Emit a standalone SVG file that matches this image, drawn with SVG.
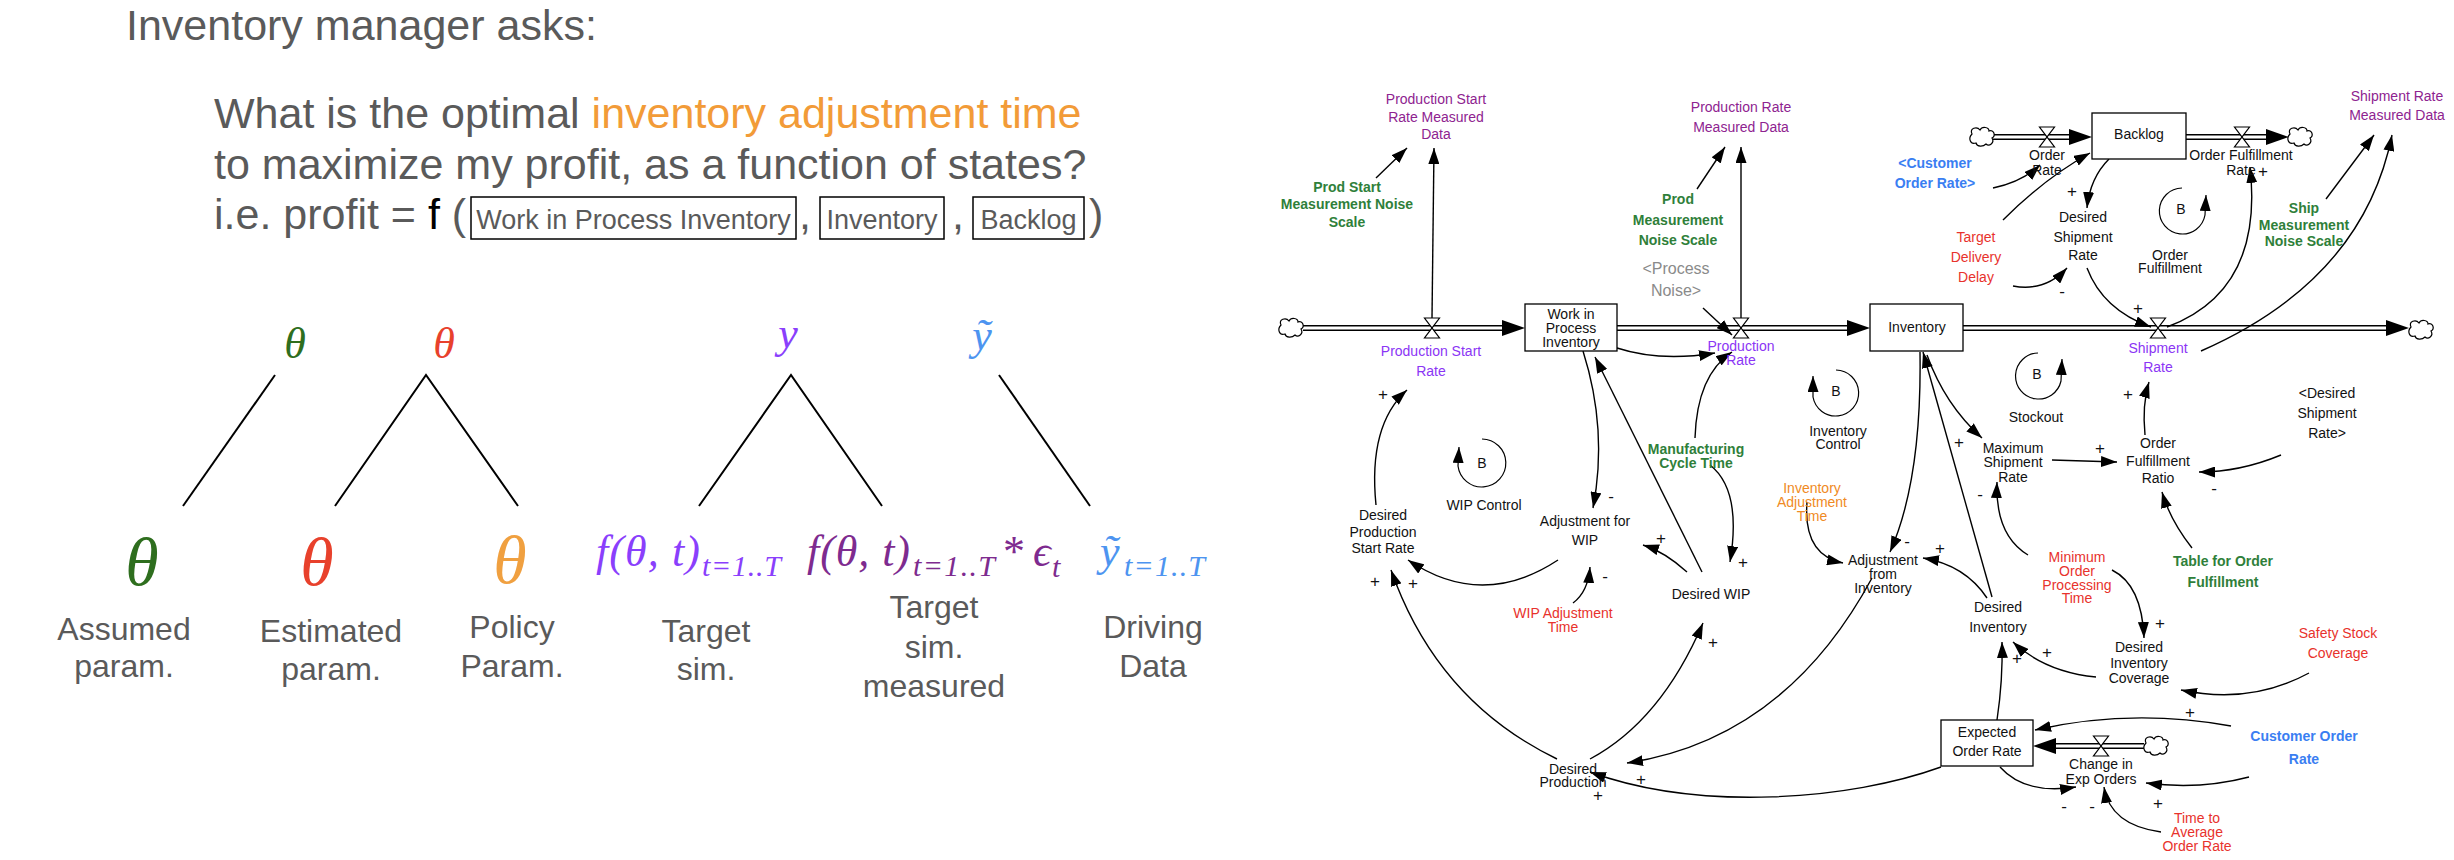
<svg xmlns="http://www.w3.org/2000/svg" width="2454" height="860" viewBox="0 0 2454 860">
<style>
.sans{font-family:"Liberation Sans",Arial,sans-serif}
.hd{font-size:43px;fill:#5a5a5a}
.lab{font-size:32px;fill:#5a5a5a;text-anchor:middle}
.bx{font-size:27px;fill:#5a5a5a;text-anchor:middle}
.m{font-family:"Liberation Serif","Times New Roman",serif;font-style:italic}
.v{font-family:"Liberation Sans",Arial,sans-serif;font-size:14px;text-anchor:middle;fill:#111}
.p{font-family:"Liberation Sans",Arial,sans-serif;font-size:17px;text-anchor:middle;fill:#111}
.b{font-weight:bold}
.pu{fill:#8e2390}
.vi{fill:#8b35f5}
.gr{fill:#2f7f3a}
.rd{fill:#e8322c}
.bl{fill:#3a7ef2}
.or{fill:#f08a24}
.gy{fill:#8a8a8a;font-size:16px}
.lk{fill:none;stroke:#000;stroke-width:1.4;marker-end:url(#ah)}
.arc{fill:none;stroke:#000;stroke-width:1.2;marker-end:url(#ah)}
.stk{fill:#fff;stroke:#000;stroke-width:1.3}
.po{stroke:#000;stroke-width:6;fill:none}
.pi{stroke:#fff;stroke-width:3;fill:none}
.tree{stroke:#000;stroke-width:2;fill:none}
.ebox{fill:none;stroke:#000;stroke-width:1.5}
</style>
<defs>
<marker id="ah" markerUnits="userSpaceOnUse" markerWidth="16" markerHeight="11" refX="16" refY="5.5" orient="auto">
<path d="M0,0 L16,5.5 L0,11 Z" fill="#000"/>
</marker>
<path id="cloud" d="M-10,-3 C-13,-9 -5,-11 -2,-7 C0,-11 7,-10 7,-6 C12,-8 14,-1 10,1 C13,6 7,10 4,7 C1,10 -5,10 -6,6 C-12,8 -14,1 -10,-3 Z" fill="#fff" stroke="#000" stroke-width="1.2"/>
<path id="valve" d="M-7.5,-10 L7.5,-10 L-7.5,10 L7.5,10 Z" fill="#fff" stroke="#000" stroke-width="1.2"/>
<path id="pah" d="M-23,-8 L0,0 L-23,8 Z" fill="#000"/>
</defs>
<rect width="2454" height="860" fill="#fff"/>

<!-- LEFT PANEL -->
<g id="question" class="sans">
<text class="hd" x="126" y="40">Inventory manager asks:</text>
<text class="hd" x="214" y="128">What is the optimal <tspan fill="#f29b38">inventory adjustment time</tspan></text>
<text class="hd" x="214" y="179">to maximize my profit, as a function of states?</text>
<text class="hd" x="214" y="229">i.e. profit = <tspan fill="#000">f</tspan> (</text>
<rect class="ebox" x="471" y="197" width="325" height="42"/>
<text class="bx" x="633.5" y="229">Work in Process Inventory</text>
<text class="hd" x="799" y="229">,</text>
<rect class="ebox" x="820" y="197" width="124" height="42"/>
<text class="bx" x="882" y="229">Inventory</text>
<text class="hd" x="952" y="229">,</text>
<rect class="ebox" x="973" y="197" width="111" height="42"/>
<text class="bx" x="1028.5" y="229">Backlog</text>
<text class="hd" x="1089" y="229">)</text>
</g>

<g id="tree-top">
<text class="m" x="295" y="358" font-size="44" fill="#2e6e1e" text-anchor="middle">θ</text>
<text class="m" x="444" y="358" font-size="44" fill="#e8412c" text-anchor="middle">θ</text>
<text class="m" x="788" y="348" font-size="44" fill="#8a3ffc" text-anchor="middle">y</text>
<text class="m" x="982" y="350" font-size="44" fill="#4d94f0" text-anchor="middle">ỹ</text>
</g>
<g id="tree-lines">
<path class="tree" d="M275,375 L183,506"/>
<path class="tree" d="M335,506 L426,375 L518,506"/>
<path class="tree" d="M699,506 L791,375 L882,506"/>
<path class="tree" d="M999,375 L1090,506"/>
</g>
<g id="tree-bottom">
<text class="m" x="142" y="585" font-size="68" fill="#2e6e1e" text-anchor="middle">θ</text>
<text class="m" x="317" y="585" font-size="68" fill="#e8412c" text-anchor="middle">θ</text>
<text class="m" x="510" y="583" font-size="68" fill="#f0a040" text-anchor="middle">θ</text>
<g fill="#8a3ffc" class="m">
<text x="596" y="566" font-size="44" textLength="104" lengthAdjust="spacing">f(θ, t)</text>
<text x="702" y="576" font-size="30" textLength="79" lengthAdjust="spacing">t=1..T</text>
</g>
<g fill="#7e2b8f" class="m">
<text x="807" y="566" font-size="44" textLength="103" lengthAdjust="spacing">f(θ, t)</text>
<text x="913" y="576" font-size="30" textLength="82" lengthAdjust="spacing">t=1..T</text>
<text x="1003" y="566" font-size="44" font-style="normal">*</text>
<text x="1033" y="566" font-size="44">ϵ</text>
<text x="1052" y="577" font-size="30">t</text>
</g>
<g fill="#4d94f0" class="m">
<text x="1100" y="566" font-size="44">ỹ</text>
<text x="1124" y="576" font-size="30" textLength="81" lengthAdjust="spacing">t=1..T</text>
</g>
</g>
<g id="tree-labels" class="sans">
<text class="lab" x="124" y="640">Assumed<tspan x="124" y="677">param.</tspan></text>
<text class="lab" x="331" y="642">Estimated<tspan x="331" y="680">param.</tspan></text>
<text class="lab" x="512" y="638">Policy<tspan x="512" y="677">Param.</tspan></text>
<text class="lab" x="706" y="642">Target<tspan x="706" y="680">sim.</tspan></text>
<text class="lab" x="934" y="618">Target<tspan x="934" y="658">sim.</tspan><tspan x="934" y="697">measured</tspan></text>
<text class="lab" x="1153" y="638">Driving<tspan x="1153" y="677">Data</tspan></text>
</g>

<!-- RIGHT PANEL: pipes -->
<g id="pipes">
<path class="po" d="M1303,328 H1504"/><path class="pi" d="M1303,328 H1504"/>
<use href="#pah" x="1525" y="328"/>
<path class="po" d="M1617,328 H1849"/><path class="pi" d="M1617,328 H1849"/>
<use href="#pah" x="1870" y="328"/>
<path class="po" d="M1963,328 H2388"/><path class="pi" d="M1963,328 H2388"/>
<use href="#pah" x="2409" y="328"/>
<path class="po" d="M1993,137 H2071"/><path class="pi" d="M1993,137 H2071"/>
<use href="#pah" x="2092" y="137"/>
<path class="po" d="M2186,137 H2268"/><path class="pi" d="M2186,137 H2268"/>
<use href="#pah" x="2289" y="137"/>
<path class="po" d="M2144,746 H2054"/><path class="pi" d="M2144,746 H2054"/>
<use href="#pah" transform="translate(2033,746) rotate(180)"/>
<use href="#cloud" x="1291" y="328"/>
<use href="#cloud" x="2421" y="330"/>
<use href="#cloud" x="1982" y="137"/>
<use href="#cloud" x="2300" y="137"/>
<use href="#cloud" x="2156" y="746"/>
</g>

<!-- connectors -->
<g id="connectors">
<path class="lk" d="M1376,178 L1407,148"/>
<path class="lk" d="M1432,318 L1434,148"/>
<path class="lk" d="M1697,189 L1725,147"/>
<path class="lk" d="M1741,318 L1741,147"/>
<path class="lk" d="M1703,308 L1732,335"/>
<path class="lk" d="M1993,188 Q2022,182 2040,165"/>
<path class="lk" d="M2003,220 Q2045,178 2090,153"/>
<path class="lk" d="M2109,159 Q2090,178 2087,208"/>
<path class="lk" d="M2013,286 Q2045,292 2067,268"/>
<path class="lk" d="M2087,268 Q2103,310 2151,327"/>
<path class="lk" d="M2167,327 Q2264,291 2250,167"/>
<path class="lk" d="M2201,351 Q2363,280 2392,135"/>
<path class="lk" d="M2326,199 L2374,135"/>
<path class="lk" d="M1927,355 Q1945,405 1982,438"/>
<path class="lk" d="M2028,555 Q1995,535 1997,482"/>
<path class="lk" d="M2052,460 L2117,462"/>
<path class="lk" d="M2145,435 Q2142,405 2149,382"/>
<path class="lk" d="M2281,455 Q2240,472 2199,472"/>
<path class="lk" d="M2192,548 Q2170,520 2162,492"/>
<path class="lk" d="M1920,352 Q1922,480 1890,552"/>
<path class="lk" d="M1992,597 L1923,352"/>
<path class="lk" d="M1987,598 Q1965,565 1923,558"/>
<path class="lk" d="M1807,502 Q1803,555 1843,563"/>
<path class="lk" d="M1872,578 Q1785,739 1627,763"/>
<path class="lk" d="M1941,767 C1850,800 1700,812 1590,772"/>
<path class="lk" d="M1590,759 Q1661,721 1703,623"/>
<path class="lk" d="M1557,759 Q1437,701 1391,570"/>
<path class="lk" d="M1558,560 Q1482,610 1408,560"/>
<path class="lk" d="M1573,603 Q1588,592 1590,567"/>
<path class="lk" d="M1687,572 Q1665,552 1643,545"/>
<path class="lk" d="M1702,572 L1595,357"/>
<path class="lk" d="M1583,351 Q1608,430 1593,508"/>
<path class="lk" d="M1617,348 Q1660,362 1715,353"/>
<path class="lk" d="M1695,438 Q1697,375 1732,352"/>
<path class="lk" d="M1710,465 Q1742,490 1730,562"/>
<path class="lk" d="M1376,505 Q1368,425 1407,390"/>
<path class="lk" d="M1997,720 Q2003,680 2002,642"/>
<path class="lk" d="M2096,677 Q2045,672 2013,642"/>
<path class="lk" d="M2112,570 Q2142,585 2144,638"/>
<path class="lk" d="M2309,673 Q2250,705 2181,690"/>
<path class="lk" d="M2231,726 Q2131,708 2035,730"/>
<path class="lk" d="M2000,767 Q2025,795 2076,787"/>
<path class="lk" d="M2249,777 Q2200,790 2146,783"/>
<path class="lk" d="M2161,832 Q2110,825 2104,787"/>
</g>

<!-- valves -->
<g id="valves">
<use href="#valve" x="1432" y="328"/>
<use href="#valve" x="1741" y="328"/>
<use href="#valve" x="2158" y="328"/>
<use href="#valve" x="2047" y="137"/>
<use href="#valve" x="2242" y="137"/>
<use href="#valve" x="2101" y="746"/>
</g>

<!-- stocks -->
<g id="n_wip"><rect class="stk" x="1525" y="304" width="92" height="47"/><text class="v" x="1571" y="319">Work in<tspan x="1571" y="333">Process</tspan><tspan x="1571" y="347">Inventory</tspan></text></g>
<g id="n_inventory"><rect class="stk" x="1870" y="304" width="93" height="47"/><text class="v" x="1917" y="332">Inventory</text></g>
<g id="n_backlog"><rect class="stk" x="2092" y="113" width="94" height="46"/><text class="v" x="2139" y="139">Backlog</text></g>
<g id="n_eor"><rect class="stk" x="1941" y="720" width="92" height="46"/><text class="v" x="1987" y="737">Expected<tspan x="1987" y="756">Order Rate</tspan></text></g>

<!-- loops -->
<g id="loop_wip"><path class="arc" d="M1482,439 A24,24 0 1 1 1458,466 L1459,447"/><text class="v" x="1482" y="468">B</text><text class="v" x="1484" y="510">WIP Control</text></g>
<g id="loop_inv"><path class="arc" d="M1836,370 A23,23 0 1 1 1813,397 L1813,376"/><text class="v" x="1836" y="396">B</text><text class="v" x="1838" y="436">Inventory<tspan x="1838" y="449">Control</tspan></text></g>
<g id="loop_stock"><path class="arc" d="M2038,353 A23,23 0 1 0 2061,381 L2062,359"/><text class="v" x="2037" y="379">B</text><text class="v" x="2036" y="422">Stockout</text></g>
<g id="loop_of"><path class="arc" d="M2182,188 A23,23 0 1 0 2205,215 L2206,195"/><text class="v" x="2181" y="214">B</text><text class="v" x="2170" y="260">Order<tspan x="2170" y="273">Fulfillment</tspan></text></g>

<!-- variables -->
<g id="n_psrmd"><text class="v pu" x="1436" y="104">Production Start<tspan x="1436" y="122">Rate Measured</tspan><tspan x="1436" y="139">Data</tspan></text></g>
<g id="n_psmns"><text class="v b gr" x="1347" y="192">Prod Start<tspan x="1347" y="209">Measurement Noise</tspan><tspan x="1347" y="227">Scale</tspan></text></g>
<g id="n_prmd"><text class="v pu" x="1741" y="112">Production Rate<tspan x="1741" y="132">Measured Data</tspan></text></g>
<g id="n_pmns"><text class="v b gr" x="1678" y="204">Prod<tspan x="1678" y="225">Measurement</tspan><tspan x="1678" y="245">Noise Scale</tspan></text></g>
<g id="n_pnoise"><text class="v gy" x="1676" y="274">&lt;Process<tspan x="1676" y="296">Noise&gt;</tspan></text></g>
<g id="n_cor_shadow"><text class="v b bl" x="1935" y="168">&lt;Customer<tspan x="1935" y="188">Order Rate&gt;</tspan></text></g>
<g id="n_orate"><text class="v" x="2047" y="160">Order<tspan x="2047" y="175">Rate</tspan></text></g>
<g id="n_ofrate"><text class="v" x="2241" y="160">Order Fulfillment<tspan x="2241" y="175">Rate</tspan></text></g>
<g id="n_srmd"><text class="v pu" x="2397" y="101">Shipment Rate<tspan x="2397" y="120">Measured Data</tspan></text></g>
<g id="n_smns"><text class="v b gr" x="2304" y="213">Ship<tspan x="2304" y="230">Measurement</tspan><tspan x="2304" y="246">Noise Scale</tspan></text></g>
<g id="n_tdd"><text class="v rd" x="1976" y="242">Target<tspan x="1976" y="262">Delivery</tspan><tspan x="1976" y="282">Delay</tspan></text></g>
<g id="n_dsr"><text class="v" x="2083" y="222">Desired<tspan x="2083" y="242">Shipment</tspan><tspan x="2083" y="260">Rate</tspan></text></g>
<g id="n_psr"><text class="v vi" x="1431" y="356">Production Start<tspan x="1431" y="376">Rate</tspan></text></g>
<g id="n_pr"><text class="v vi" x="1741" y="351">Production<tspan x="1741" y="365">Rate</tspan></text></g>
<g id="n_sr"><text class="v vi" x="2158" y="353">Shipment<tspan x="2158" y="372">Rate</tspan></text></g>
<g id="n_mct"><text class="v b gr" x="1696" y="454">Manufacturing<tspan x="1696" y="468">Cycle Time</tspan></text></g>
<g id="n_dpsr"><text class="v" x="1383" y="520">Desired<tspan x="1383" y="537">Production</tspan><tspan x="1383" y="553">Start Rate</tspan></text></g>
<g id="n_afw"><text class="v" x="1585" y="526">Adjustment for<tspan x="1585" y="545">WIP</tspan></text></g>
<g id="n_dwip"><text class="v" x="1711" y="599">Desired WIP</text></g>
<g id="n_iat"><text class="v or" x="1812" y="493">Inventory<tspan x="1812" y="507">Adjustment</tspan><tspan x="1812" y="521">Time</tspan></text></g>
<g id="n_afi"><text class="v" x="1883" y="565">Adjustment<tspan x="1883" y="579">from</tspan><tspan x="1883" y="593">Inventory</tspan></text></g>
<g id="n_msr"><text class="v" x="2013" y="453">Maximum<tspan x="2013" y="467">Shipment</tspan><tspan x="2013" y="482">Rate</tspan></text></g>
<g id="n_ofratio"><text class="v" x="2158" y="448">Order<tspan x="2158" y="466">Fulfillment</tspan><tspan x="2158" y="483">Ratio</tspan></text></g>
<g id="n_dsr_shadow"><text class="v" x="2327" y="398">&lt;Desired<tspan x="2327" y="418">Shipment</tspan><tspan x="2327" y="438">Rate&gt;</tspan></text></g>
<g id="n_tof"><text class="v b gr" x="2223" y="566">Table for Order<tspan x="2223" y="587">Fulfillment</tspan></text></g>
<g id="n_mopt"><text class="v rd" x="2077" y="562">Minimum<tspan x="2077" y="576">Order</tspan><tspan x="2077" y="590">Processing</tspan><tspan x="2077" y="603">Time</tspan></text></g>
<g id="n_wat"><text class="v rd" x="1563" y="618">WIP Adjustment<tspan x="1563" y="632">Time</tspan></text></g>
<g id="n_di"><text class="v" x="1998" y="612">Desired<tspan x="1998" y="632">Inventory</tspan></text></g>
<g id="n_dic"><text class="v" x="2139" y="652">Desired<tspan x="2139" y="668">Inventory</tspan><tspan x="2139" y="683">Coverage</tspan></text></g>
<g id="n_ssc"><text class="v rd" x="2338" y="638">Safety Stock<tspan x="2338" y="658">Coverage</tspan></text></g>
<g id="n_cor"><text class="v b bl" x="2304" y="741" font-size="18">Customer Order<tspan x="2304" y="764">Rate</tspan></text></g>
<g id="n_ceo"><text class="v" x="2101" y="769">Change in<tspan x="2101" y="784">Exp Orders</tspan></text></g>
<g id="n_taor"><text class="v rd" x="2197" y="823">Time to<tspan x="2197" y="837">Average</tspan><tspan x="2197" y="851">Order Rate</tspan></text></g>
<g id="n_dp"><text class="v" x="1573" y="774">Desired<tspan x="1573" y="787">Production</tspan></text></g>

<!-- polarities -->
<g id="polarity">
<text class="p" x="1383" y="400">+</text>
<text class="p" x="1375" y="587">+</text>
<text class="p" x="1413" y="589">+</text>
<text class="p" x="1605" y="582">-</text>
<text class="p" x="1611" y="502">-</text>
<text class="p" x="1661" y="544">+</text>
<text class="p" x="1713" y="648">+</text>
<text class="p" x="1743" y="568">+</text>
<text class="p" x="1641" y="785">+</text>
<text class="p" x="1598" y="801">+</text>
<text class="p" x="1907" y="547">-</text>
<text class="p" x="1940" y="554">+</text>
<text class="p" x="1959" y="448">+</text>
<text class="p" x="1980" y="500">-</text>
<text class="p" x="2017" y="664">+</text>
<text class="p" x="2047" y="658">+</text>
<text class="p" x="2160" y="629">+</text>
<text class="p" x="2190" y="718">+</text>
<text class="p" x="2064" y="812">-</text>
<text class="p" x="2092" y="812">-</text>
<text class="p" x="2158" y="809">+</text>
<text class="p" x="2072" y="197">+</text>
<text class="p" x="2062" y="297">-</text>
<text class="p" x="2138" y="314">+</text>
<text class="p" x="2263" y="177">+</text>
<text class="p" x="2128" y="400">+</text>
<text class="p" x="2100" y="454">+</text>
<text class="p" x="2214" y="494">-</text>
</g>
</svg>
